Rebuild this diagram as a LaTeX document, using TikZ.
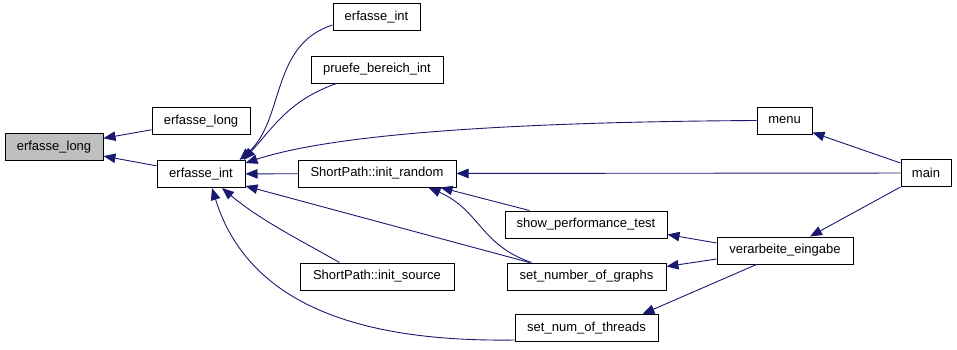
\documentclass[tikz,border=0pt]{standalone}
\usepackage{fontspec}
\setmainfont{Liberation Sans}
\usetikzlibrary{positioning}
\usetikzlibrary{calc}
\usetikzlibrary{arrows.meta}

\definecolor{edgeblue}{RGB}{25,25,112}
\definecolor{curgray}{RGB}{191,191,191}

\tikzset{
    fn/.style={draw, line width=1pt, minimum height=27pt, inner sep=0pt,
        font=\fontsize{13}{15}\selectfont},
    call/.style={draw=edgeblue, line width=0.9pt,
        -{Triangle[length=12pt,width=9.5pt]}},
}

\begin{document}
\begin{tikzpicture}[x=1pt, y=-1pt]
    \useasboundingbox (0,0) rectangle (957,349);

    % callers, left to right
    \node [fn, fill=curgray, minimum width=98pt] (el) at (54,147) {erfasse\_long};
    \node [fn, minimum width=98pt] (el2) at (201,121) {erfasse\_long};
    \node [fn, minimum width=88pt] (ei) at (201,174) {erfasse\_int};

    \node [fn, minimum width=87pt] (eitop) at (376.5,17) {erfasse\_int};
    \node [fn, minimum width=132pt] (pb) at (377,69.5) {pruefe\_bereich\_int};
    \node [fn, minimum width=158pt] (ir) at (377,173.5) {ShortPath::init\_random};
    \node [fn, minimum width=154pt] (is) at (377,276.5) {ShortPath::init\_source};

    \node [fn, minimum width=162pt] (spt) at (586,224.5) {show\_performance\_test};
    \node [fn, minimum width=159pt] (sng) at (586.5,276.5) {set\_number\_of\_graphs};
    \node [fn, minimum width=143pt] (snt) at (586.5,328) {set\_num\_of\_threads};

    \node [fn, minimum width=55pt] (menu) at (784.5,120.5) {menu};
    \node [fn, minimum width=136pt] (ve) at (785,250.5) {verarbeite\_eingabe};
    \node [fn, minimum width=50pt] (main) at (926,173) {main};

    % calls into erfasse_long
    \draw [call] (el2) -- (el);
    \draw [call] (ei) -- (el);

    % calls into erfasse_int
    \draw [call] ([yshift=-8pt]eitop.west) .. controls (270,45) and (285,120) .. ([xshift=-6pt]ei.north east);
    \draw [call] ([xshift=26pt]pb.south west) .. controls (290,100) and (275,125) .. ([xshift=-2pt]ei.north east);
    \draw [call] (menu.west) .. controls (500,122) and (330,135) .. ([yshift=-3pt]ei.north east);
    \draw [call] (ir) -- (ei);
    \draw [call] ([xshift=23pt]sng.north west) -- ([yshift=2pt]ei.south east);
    \draw [call] ([xshift=40pt]is.north west) .. controls (300,240) and (260,220) .. ([xshift=21pt]ei.south);
    \draw [call] ([yshift=2pt]snt.south west) .. controls (370,342) and (250,310) .. ([xshift=11pt]ei.south);

    % calls into init_random
    \draw [call] (main) -- (ir);
    \draw [call] ([xshift=25pt]spt.north west) -- ([xshift=-16pt]ir.south east);
    \draw [call] ([xshift=25pt]sng.north west) .. controls (480,245) and (480,210) .. ([xshift=-28pt]ir.south east);

    % verarbeite_eingabe and main
    \draw [call] ([yshift=7.5pt]ve.west) -- ([yshift=4pt]spt.south east);
    \draw [call] ([yshift=-8.5pt]ve.west) -- ([yshift=-4pt]sng.north east);
    \draw [call] ([xshift=40pt]ve.south west) -- ([xshift=-16pt]snt.north east);
    \draw [call] ([yshift=10pt]main.west) -- ([yshift=2pt]menu.south east);
    \draw [call] (main.south west) -- ([xshift=25pt]ve.north);
\end{tikzpicture}
\end{document}
